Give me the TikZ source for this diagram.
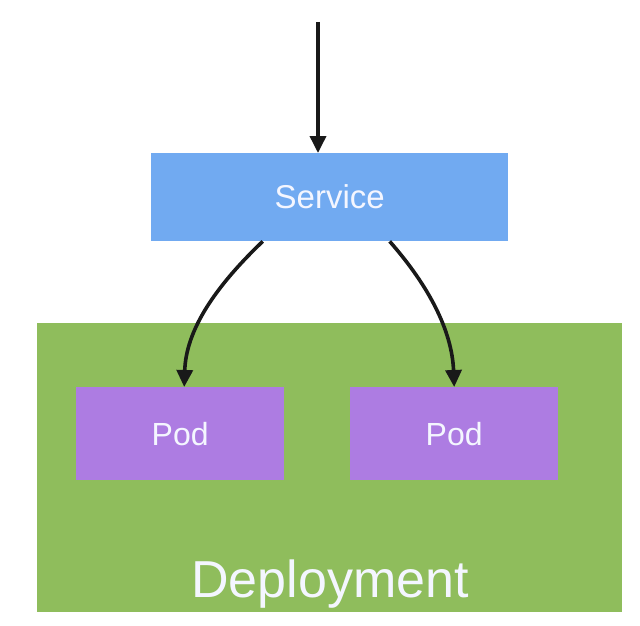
\documentclass[tikz,border=0pt]{standalone}
\usepackage{fontspec}
\setmainfont{Liberation Sans}
\usetikzlibrary{arrows.meta,calc}
\definecolor{svcblue}{HTML}{71AAF1}
\definecolor{depgreen}{HTML}{8FBD5C}
\definecolor{podpurple}{HTML}{AD7CE2}
\definecolor{txtwhite}{HTML}{F4F6FF}
\tikzset{
  box/.style={draw=none, inner sep=0pt, text=txtwhite},
  conn/.style={line width=3.6pt, draw=black!90, -{Triangle[length=17pt,width=16pt]}},
}
\begin{document}
\begin{tikzpicture}[x=1pt,y=-1pt]
\useasboundingbox (0,0) rectangle (640,626);
\fill[white] (0,0) rectangle (640,626);
% deployment
\node[box, fill=depgreen, minimum width=585pt, minimum height=289pt, anchor=north west] (deploy) at (37,323) {};
\node[text=txtwhite, font=\fontsize{52}{56}\selectfont, anchor=base] (deptext) at (330,597) {Deployment};
% service
\node[box, fill=svcblue, minimum width=357pt, minimum height=88pt, anchor=north west, font=\fontsize{33}{36}\selectfont] (service) at (151,153) {Service};
% pods
\node[box, fill=podpurple, minimum width=208pt, minimum height=93pt, anchor=north west, font=\fontsize{32}{36}\selectfont] (pod1) at (76,387) {Pod};
\node[box, fill=podpurple, minimum width=208pt, minimum height=93pt, anchor=north west, font=\fontsize{32}{36}\selectfont] (pod2) at (350,387) {Pod};
% arrows
\coordinate (top) at (318,22);
\draw[conn] (top) -- (top |- service.north);
\draw[conn] ($(service.south)+(-67,0)$) .. controls (215,287) and (186,330) .. ($(pod1.north)+(4,0)$);
\draw[conn] ($(service.south)+(60,0)$) .. controls (428,285) and (452,330) .. (pod2.north);
\end{tikzpicture}
\end{document}
